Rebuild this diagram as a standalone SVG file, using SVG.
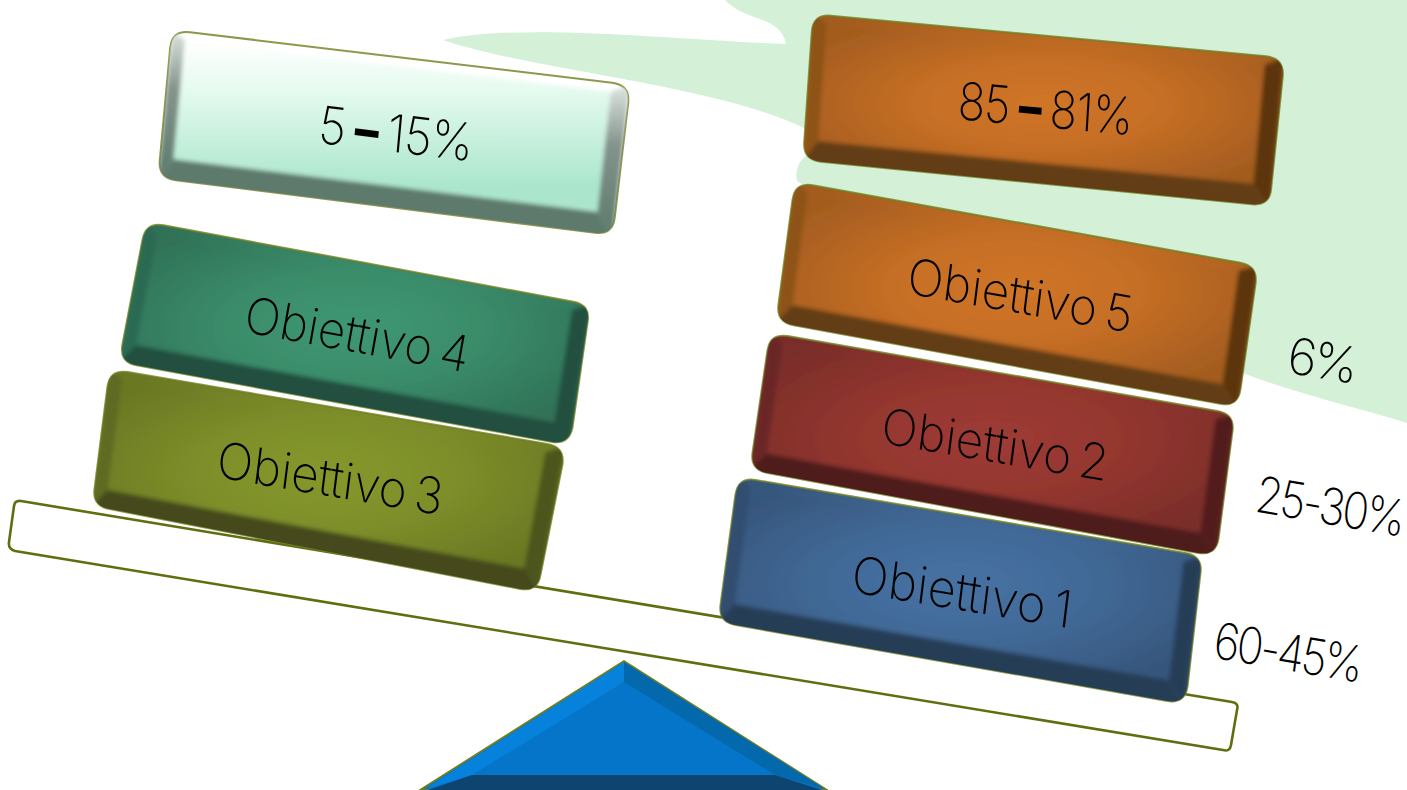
<svg xmlns="http://www.w3.org/2000/svg" width="1407" height="790" viewBox="0 0 1407 790">
<style>
text{font-family:"Inter","Noto Sans","Liberation Sans",sans-serif;font-weight:200;font-size:52px;fill:#000;text-anchor:middle;word-spacing:-6px}
.range{letter-spacing:-1px;word-spacing:-3px}
.tight{letter-spacing:-3.2px;word-spacing:0}
.dash{font-weight:800}
.o{stroke:#6f7f1f;stroke-width:2;stroke-opacity:.8}
.beam{fill:#fff;stroke:#5f6f10;stroke-width:2.6}
</style>
<defs>
<filter id="soft" x="-5%" y="-5%" width="110%" height="110%"><feGaussianBlur stdDeviation="2"/></filter>
<radialGradient id="go" r=".62"><stop offset="0" stop-color="#d07528"/><stop offset=".45" stop-color="#c56e25"/><stop offset="1" stop-color="#a35c1f"/></radialGradient>
<radialGradient id="gr" r=".62"><stop offset="0" stop-color="#9e3b36"/><stop offset=".45" stop-color="#95372f"/><stop offset="1" stop-color="#7a2d2a"/></radialGradient>
<radialGradient id="gb" r=".62"><stop offset="0" stop-color="#4672a3"/><stop offset=".45" stop-color="#426a98"/><stop offset="1" stop-color="#36567c"/></radialGradient>
<radialGradient id="gg" r=".62"><stop offset="0" stop-color="#3f9772"/><stop offset=".45" stop-color="#3b8d6b"/><stop offset="1" stop-color="#307257"/></radialGradient>
<radialGradient id="gl" r=".62"><stop offset="0" stop-color="#85982c"/><stop offset=".45" stop-color="#7e8f2a"/><stop offset="1" stop-color="#6a7823"/></radialGradient>
<linearGradient id="gw" x2="0" y2="1"><stop offset="0" stop-color="#fff"/><stop offset=".28" stop-color="#e6fbf0"/><stop offset=".85" stop-color="#abe6cc"/><stop offset="1" stop-color="#abe6cc"/></linearGradient>
<linearGradient id="gs" x2="0" y2="1"><stop offset="0" stop-color="#dfe6e2"/><stop offset=".4" stop-color="#84948c"/><stop offset="1" stop-color="#5d7a6c"/></linearGradient>
<clipPath id="c3"><path d="M127.7,372.1 L547.3,443.9 Q565,447 562.4,464.8 L540.6,574.2 Q538,592 520.3,588.9 L109.7,509.1 Q92,506 94.6,488.2 L107.4,386.8 Q110,369 127.7,372.1Z"/></clipPath>
<clipPath id="c4"><path d="M163.7,225.3 L573.3,301.7 Q591,305 587.5,322.7 L572.5,427.3 Q569,445 551.3,441.7 L136.7,365.3 Q119,362 122.5,344.3 L142.5,239.7 Q146,222 163.7,225.3Z"/></clipPath>
<clipPath id="cs"><path d="M189.9,32.2 L612.1,82.8 Q630,85 628.2,102.9 L614.8,217.1 Q613,235 595.1,232.8 L175.9,180.2 Q158,178 159.8,160.1 L170.2,47.9 Q172,30 189.9,32.2Z"/></clipPath>
<clipPath id="c1"><path d="M755.7,480 L1185.3,553 Q1203,556 1200.4,573.8 L1187.6,686.2 Q1185,704 1167.3,701 L735.7,625 Q718,622 720.6,604.2 L735.4,494.8 Q738,477 755.7,480Z"/></clipPath>
<clipPath id="c2"><path d="M787.7,336.1 L1217.3,410.9 Q1235,414 1232.4,431.8 L1218.6,538.2 Q1216,556 1198.3,552.9 L767.7,473.1 Q750,470 752.6,452.2 L767.4,350.8 Q770,333 787.7,336.1Z"/></clipPath>
<clipPath id="c5"><path d="M812.7,185.2 L1240.3,262.8 Q1258,266 1255.5,283.8 L1240.5,389.2 Q1238,407 1220.3,403.8 L793.7,325.2 Q776,322 778.5,304.2 L792.5,199.8 Q795,182 812.7,185.2Z"/></clipPath>
<clipPath id="c8"><path d="M830.9,15.7 L1266.1,56.3 Q1284,58 1282.8,75.9 L1271.2,188.1 Q1270,206 1252.1,204.3 L820.9,161.7 Q803,160 804.2,142.1 L811.8,31.9 Q813,14 830.9,15.7Z"/></clipPath>
</defs>
<path id="backdrop" fill="#d4f0d6" d="M725,0 C745,22 780,15 786,44 C680,40 520,22 443,40 C530,70 720,85 808,130 L808,155 C797,160 795,175 797,181 L1000,300 L1240,372 C1300,395 1360,408 1407,423 L1407,0 Z"/>
<g id="beam"><path class="beam" d="M21,501 L1232,702 Q1239,703 1237,710 L1231,745 Q1230,752 1223,750 L15,551 Q8,549 9,542 L14,506 Q15,500 21,501 Z"/></g>
<g id="fulcrum">
<polygon points="624,661 420,790 827,790" fill="#0575c9" stroke="#6f7f1f" stroke-width="1.8"/>
<polygon points="624,662 624,682 472,775 425,789" fill="#0682dc"/>
<polygon points="624,662 624,682 775,775 825,789" fill="#0468ad"/>
<polygon points="472,775 775,775 822,790 428,790" fill="#0e4470"/>
</g>
<g id="obiettivo-3">
<path class="o" fill="url(#gl)" d="M127.7,372.1 L547.3,443.9 Q565,447 562.4,464.8 L540.6,574.2 Q538,592 520.3,588.9 L109.7,509.1 Q92,506 94.6,488.2 L107.4,386.8 Q110,369 127.7,372.1Z"/>
<g clip-path="url(#c3)"><g filter="url(#soft)">
<polygon fill="#5f6b22" points="110,369 122.5,379.6 107.9,489.8 92,506"/>
<polygon fill="#4b541b" points="565,447 545.2,452.6 523.9,568.3 538,592"/>
<polygon fill="#44491c" points="92,506 107.9,489.8 523.9,568.3 538,592 520,600 90,520"/>
<polygon fill="url(#gl)" points="122.5,379.6 545.2,452.6 523.9,568.3 107.9,489.8"/>
</g></g>
<text transform="matrix(.91 .155 -.12 .96 328 496)">Obiettivo 3</text></g>
<g id="obiettivo-4">
<path class="o" fill="url(#gg)" d="M163.7,225.3 L573.3,301.7 Q591,305 587.5,322.7 L572.5,427.3 Q569,445 551.3,441.7 L136.7,365.3 Q119,362 122.5,344.3 L142.5,239.7 Q146,222 163.7,225.3Z"/>
<g clip-path="url(#c4)"><g filter="url(#soft)">
<polygon fill="#2b6a52" points="146,222 157.8,232.9 136.3,344.9 119,362"/>
<polygon fill="#235040" points="591,305 571.9,310.1 554.1,422.1 569,445"/>
<polygon fill="#22503f" points="119,362 136.3,344.9 554.1,422.1 569,445 550,455 115,375"/>
<polygon fill="url(#gg)" points="157.8,232.9 571.9,310.1 554.1,422.1 136.3,344.9"/>
</g></g>
<text transform="matrix(.9 .165 -.17 .95 354 352)">Obiettivo 4</text></g>
<g id="range-5-15">
<path class="o" fill="#fff" d="M189.9,32.2 L612.1,82.8 Q630,85 628.2,102.9 L614.8,217.1 Q613,235 595.1,232.8 L175.9,180.2 Q158,178 159.8,160.1 L170.2,47.9 Q172,30 189.9,32.2Z"/>
<g clip-path="url(#cs)"><g filter="url(#soft)">
<polygon fill="url(#gs)" points="172,30 184.9,40.6 173.7,159 158,178"/>
<polygon fill="url(#gs)" points="630,85 610.6,91.8 597.2,211.7 613,235"/>
<polygon fill="#5d7a6c" points="158,178 173.7,159 597.2,211.7 613,235 600,245 150,190"/>
<polygon fill="url(#gw)" points="184.9,40.6 610.6,91.8 597.2,211.7 173.7,159"/>
</g></g>
<text class="range" transform="matrix(.91 .11 -.09 1 394 152)">5 <tspan class="dash">–</tspan> 15%</text></g>
<g id="obiettivo-1">
<path class="o" fill="url(#gb)" d="M755.7,480 L1185.3,553 Q1203,556 1200.4,573.8 L1187.6,686.2 Q1185,704 1167.3,701 L735.7,625 Q718,622 720.6,604.2 L735.4,494.8 Q738,477 755.7,480Z"/>
<g clip-path="url(#c1)"><g filter="url(#soft)">
<polygon fill="#304e70" points="738,477 750.8,488.1 734.8,604.1 718,622"/>
<polygon fill="#263d57" points="1203,556 1183.3,561.7 1168.8,680 1185,704"/>
<polygon fill="#263d57" points="718,622 734.8,604.1 1168.8,680 1185,704 1170,715 715,635"/>
<polygon fill="url(#gb)" points="750.8,488.1 1183.3,561.7 1168.8,680 734.8,604.1"/>
</g></g>
<text transform="matrix(.93 .155 -.12 .98 960 610)">Obiettivo 1</text></g>
<g id="obiettivo-2">
<path class="o" fill="url(#gr)" d="M787.7,336.1 L1217.3,410.9 Q1235,414 1232.4,431.8 L1218.6,538.2 Q1216,556 1198.3,552.9 L767.7,473.1 Q750,470 752.6,452.2 L767.4,350.8 Q770,333 787.7,336.1Z"/>
<g clip-path="url(#c2)"><g filter="url(#soft)">
<polygon fill="#6a2825" points="770,333 782.8,343.6 766.8,453.4 750,470"/>
<polygon fill="#521e1c" points="1235,414 1215.3,419.2 1200,532.7 1216,556"/>
<polygon fill="#4f1f1d" points="750,470 766.8,453.4 1200,532.7 1216,556 1200,566 745,482"/>
<polygon fill="url(#gr)" points="782.8,343.6 1215.3,419.2 1200,532.7 766.8,453.4"/>
</g></g>
<text transform="matrix(.91 .155 -.12 .95 993 462)">Obiettivo 2</text></g>
<g id="obiettivo-5">
<path class="o" fill="url(#go)" d="M812.7,185.2 L1240.3,262.8 Q1258,266 1255.5,283.8 L1240.5,389.2 Q1238,407 1220.3,403.8 L793.7,325.2 Q776,322 778.5,304.2 L792.5,199.8 Q795,182 812.7,185.2Z"/>
<g clip-path="url(#c5)"><g filter="url(#soft)">
<polygon fill="#8e5219" points="795,182 807.8,192.9 792.6,304.9 776,322"/>
<polygon fill="#5c3610" points="1258,266 1238.3,271.1 1222.3,383.9 1238,407"/>
<polygon fill="#643d18" points="776,322 792.6,304.9 1222.3,383.9 1238,407 1220,418 770,335"/>
<polygon fill="url(#go)" points="807.8,192.9 1238.3,271.1 1222.3,383.9 792.6,304.9"/>
</g></g>
<text transform="matrix(.91 .16 -.12 .96 1018 313)">Obiettivo 5</text></g>
<g id="range-85-81">
<path class="o" fill="url(#go)" d="M830.9,15.7 L1266.1,56.3 Q1284,58 1282.8,75.9 L1271.2,188.1 Q1270,206 1252.1,204.3 L820.9,161.7 Q803,160 804.2,142.1 L811.8,31.9 Q813,14 830.9,15.7Z"/>
<g clip-path="url(#c8)"><g filter="url(#soft)">
<polygon fill="#8e5219" points="813,14 826.5,24.1 818.4,141 803,160"/>
<polygon fill="#5c3610" points="1284,58 1264.4,65.1 1253.3,183.5 1270,206"/>
<polygon fill="#643d18" points="803,160 818.4,141 1253.3,183.5 1270,206 1255,216 795,172"/>
<polygon fill="url(#go)" points="826.5,24.1 1264.4,65.1 1253.3,183.5 818.4,141"/>
</g></g>
<text class="range" transform="matrix(.87 .08 -.06 1 1044 127)">85 <tspan class="dash">–</tspan> 81%</text></g>
<g id="labels">
<text class="tight" transform="matrix(.95 .16 -.13 .96 1319 378)">6%</text>
<text class="tight" transform="matrix(.84 .145 -.13 .96 1327 524)">25-30%</text>
<text class="tight" transform="matrix(.84 .145 -.13 .96 1285 670)">60-45%</text>
</g>
</svg>
